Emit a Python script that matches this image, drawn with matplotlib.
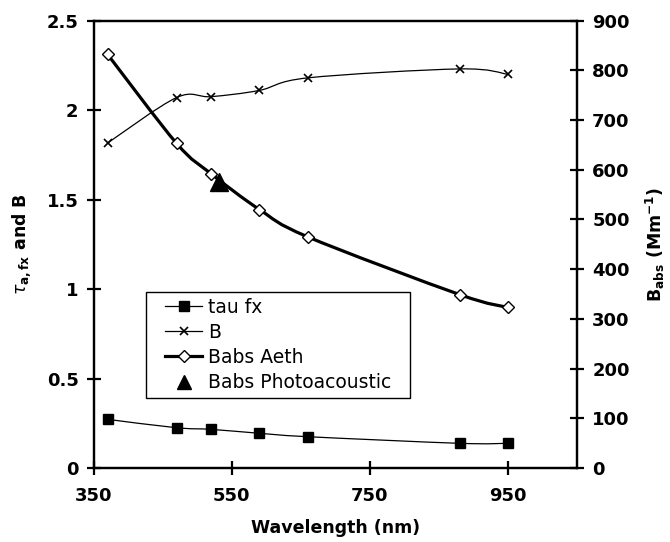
import matplotlib
matplotlib.use('Agg')
import matplotlib.pyplot as plt
import numpy as np
from matplotlib.path import Path
from matplotlib.patches import PathPatch, Rectangle
from matplotlib.lines import Line2D

# aethalometer channels (nm)
wavelength = [370, 470, 520, 590, 660, 880, 950]
tau_fx = [0.272, 0.225, 0.216, 0.194, 0.175, 0.138, 0.138]
b_exp = [1.816, 2.07, 2.075, 2.11, 2.18, 2.23, 2.20]
babs_aeth = [832, 653, 592, 520, 465, 349, 323]
pa_wavelength = [532]
babs_pa = [575]


def smooth_path(x, y):
    """Catmull-Rom style cubic Bezier path through the points."""
    x = np.asarray(x, float)
    y = np.asarray(y, float)
    n = len(x)
    verts = [(x[0], y[0])]
    codes = [Path.MOVETO]
    for i in range(n - 1):
        i0 = max(i - 1, 0)
        i3 = min(i + 2, n - 1)
        c1 = (x[i] + (x[i + 1] - x[i0]) / 6, y[i] + (y[i + 1] - y[i0]) / 6)
        c2 = (x[i + 1] - (x[i3] - x[i]) / 6, y[i + 1] - (y[i3] - y[i]) / 6)
        verts += [c1, c2, (x[i + 1], y[i + 1])]
        codes += [Path.CURVE4] * 3
    return Path(verts, codes)


plt.rcParams['font.family'] = 'DejaVu Sans'
plt.rcParams['mathtext.fontset'] = 'dejavusans'

fig = plt.figure(figsize=(6.7, 5.42), dpi=100)
ax = fig.add_axes([0.140, 0.1365, 0.721, 0.8255])
ax2 = ax.twinx()

ax.add_patch(PathPatch(smooth_path(wavelength, tau_fx), fill=False, color='black', lw=0.9))
ax.plot(wavelength, tau_fx, ls='none', marker='s', ms=7.5, color='black')
ax.add_patch(PathPatch(smooth_path(wavelength, b_exp), fill=False, color='black', lw=0.9))
ax.plot(wavelength, b_exp, ls='none', marker='x', ms=6, mew=1.2, color='black')

ax2.add_patch(PathPatch(smooth_path(wavelength, babs_aeth), fill=False, color='black', lw=2.3, zorder=2))
ax2.plot(wavelength, babs_aeth, ls='none', marker='D', ms=6.5, mew=1.0,
         mfc='white', mec='black', zorder=3)
ax2.plot(pa_wavelength, babs_pa, ls='none', marker='^', ms=13, color='black', zorder=4)

ax.set_xlim(350, 1050)
ax.set_ylim(0, 2.5)
ax2.set_ylim(0, 900)
ax.set_xticks([350, 550, 750, 950])
ax.set_yticks([0, 0.5, 1, 1.5, 2, 2.5])
ax.set_yticklabels(['0', '0.5', '1', '1.5', '2', '2.5'])
ax2.set_yticks(np.arange(0, 901, 100))

for a in (ax, ax2):
    for s in a.spines.values():
        s.set_linewidth(1.6)
    for lab in a.get_xticklabels() + a.get_yticklabels():
        lab.set_fontweight('bold')
        lab.set_fontsize(13)
ax.tick_params(axis='both', direction='inout', length=10, width=1.6, pad=6)
ax2.tick_params(axis='y', direction='inout', length=10, width=1.6, pad=6)
ax.tick_params(axis='x', pad=9)

ax.set_xlabel('Wavelength (nm)', fontsize=12.5, fontweight='bold', labelpad=10)
ax.set_ylabel(r'$\tau_{\mathbf{a,fx}}$ and B', fontsize=12.5, fontweight='bold', labelpad=10)
ax2.set_ylabel(r'B$_{\mathbf{abs}}$ (Mm$^{\mathbf{-1}}$)', fontsize=12.5, fontweight='bold', labelpad=10)

handles = [
    Line2D([], [], color='black', lw=0.9, marker='s', ms=7.5),
    Line2D([], [], color='black', lw=0.9, marker='x', ms=6, mew=1.2),
    Line2D([], [], color='black', lw=2.3, marker='D', ms=6.5, mfc='white', mec='black'),
    Line2D([], [], color='black', ls='none', marker='^', ms=10),
]
leg = ax2.legend(handles, ['tau fx', 'B', 'Babs Aeth', 'Babs Photoacoustic'],
                 loc='upper left', bbox_to_anchor=(0.143, 0.385), fontsize=13.5,
                 frameon=False, handlelength=2.0, handletextpad=0.3,
                 labelspacing=0.33, borderpad=0.1, borderaxespad=0)
leg.set_zorder(6)

# legend frame with wider side margins than top/bottom
fig.canvas.draw()
bb = leg.get_window_extent().transformed(fig.transFigure.inverted())
padx, pady = 17 / 670, 4 / 542
ax2.add_patch(Rectangle((bb.x0 - padx, bb.y0 - pady), bb.width + 2 * padx,
                        bb.height + 2 * pady, transform=fig.transFigure,
                        facecolor='white', edgecolor='black', lw=1.0,
                        zorder=5, clip_on=False))

fig.savefig('out.png', dpi=100)
